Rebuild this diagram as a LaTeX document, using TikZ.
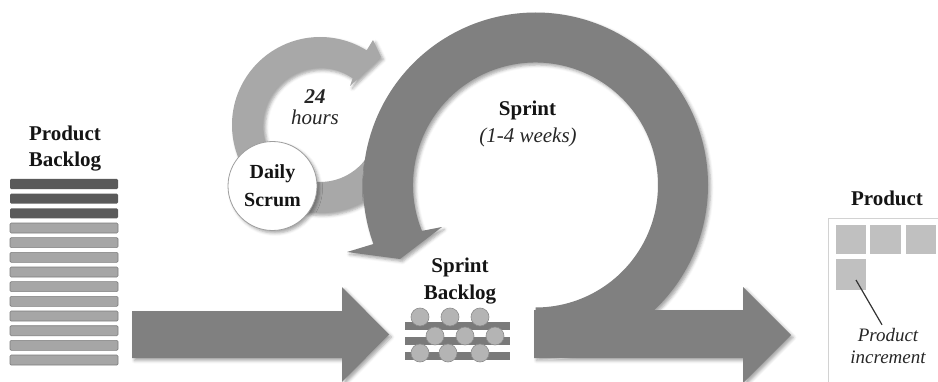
\documentclass[tikz,border=0pt]{standalone}
\usepackage{fontspec}
\setmainfont{Liberation Serif}
\usetikzlibrary{calc,shadows.blur}

\definecolor{bigarrow}{HTML}{808080}
\definecolor{smallarrow}{HTML}{A8A8A8}
\definecolor{darkitem}{HTML}{5A5A5A}
\definecolor{lightitem}{HTML}{A6A6A6}
\definecolor{itemedge}{HTML}{7E7E7E}
\definecolor{sbbar}{HTML}{7A7A7A}
\definecolor{sbdot}{HTML}{B4B4B4}
\definecolor{sbdotedge}{HTML}{8C8C8C}
\definecolor{prodsq}{HTML}{C0C0C0}
\definecolor{prodbox}{HTML}{D2D2D2}

\tikzset{
  softshadow/.style={blur shadow={shadow xshift=2.5pt, shadow yshift=-2.5pt,
      shadow blur radius=3pt, shadow opacity=35}},
  boldlbl/.style={font=\fontsize{21}{26}\selectfont\bfseries, align=center, text=black!92},
  itlbl/.style={font=\fontsize{21}{24}\selectfont\itshape, align=center, text=black!85},
  pbitem/.style={draw=itemedge, line width=0.6pt, rounded corners=1.2pt},
  sbitem/.style={fill=sbdot, draw=sbdotedge, line width=0.6pt},
}

\begin{document}
\begin{tikzpicture}[x=1pt, y=1pt]
\useasboundingbox (0,0) rectangle (938,381);

% ---------- product backlog stack ----------
\foreach \i in {0,...,12}{
  \pgfmathsetmacro{\ytop}{202-14.67*\i}
  \ifnum\i<3
    \fill[darkitem, rounded corners=1.2pt] (10,\ytop) rectangle (118,\ytop-10);
  \else
    \filldraw[pbitem, fill=lightitem] (10,\ytop) rectangle (118,\ytop-10);
  \fi
}
\node[boldlbl] (pblabel) at (65,232.5) {Product\\Backlog};

% ---------- arrow into the sprint ----------
\fill[bigarrow, softshadow]
  (132,23) -- (342,23) -- (342,-1) -- (389,46.5) -- (342,94) -- (342,70)
  -- (132,70) -- cycle;

% ---------- 24 hour loop ----------
\coordinate (dc) at (320,256);
\fill[smallarrow, softshadow]
  ($(dc)+(-30:88)$) arc[start angle=-30, end angle=-302, radius=88]
  -- (373,341) -- (381,324) -- (350,295)
  -- ($(dc)+(-305:57)$) arc[start angle=-305, end angle=-30, radius=57]
  -- cycle;
\node[itlbl, font=\fontsize{21}{21}\selectfont\itshape] (hours) at (315,273.5)
  {\textbf{24}\\hours};

% ---------- daily scrum ----------
\node[circle, minimum size=89pt, inner sep=0pt, fill=white, draw=black!38,
      line width=0.8pt, softshadow, boldlbl, font=\fontsize{20}{28}\selectfont\bfseries]
  (scrum) at (272.5,195) {Daily\\Scrum};

% ---------- sprint loop with outgoing arrow ----------
\coordinate (sc) at (535.5,196);
\fill[bigarrow, softshadow]
  ($(sc)+(-90:172.5)$) arc[start angle=-90, end angle=200, radius=172.5]
  -- (347,129) -- (400,122) -- (442,154)
  -- ($(sc)+(202:122.5)$) arc[start angle=202, end angle=-90, radius=122.5]
  -- cycle
  (534,23) -- (743,23) -- (743,-2) -- (791,46) -- (743,94) -- (743,71)
  -- (534,71) -- cycle;
\node[boldlbl] (sprint) at (527.5,271) {Sprint};
\node[itlbl] (weeks) at (528,244) {(1-4 weeks)};

% ---------- sprint backlog ----------
\node[boldlbl, font=\fontsize{21}{27}\selectfont\bfseries] (sblabel) at (460,99.5)
  {Sprint\\Backlog};
\foreach \yb in {55,40,25}{
  \fill[sbbar] (405,\yb+4) rectangle (510,\yb-4);
}
\foreach \xx in {420,450,480}{ \filldraw[sbitem] (\xx,64) circle[radius=9]; }
\foreach \xx in {435,465,495}{ \filldraw[sbitem] (\xx,45) circle[radius=9]; }
\foreach \xx in {420,448,480}{ \filldraw[sbitem] (\xx,28) circle[radius=9]; }

% ---------- product ----------
\node[boldlbl] (plabel) at (887,183) {Product};
\draw[prodbox, line width=1pt] (945,163) -- (828,163) -- (828,-10);
\fill[prodsq] (836,156) rectangle (866,127);
\fill[prodsq] (870,156) rectangle (901,127);
\fill[prodsq] (906,156) rectangle (936,127);
\fill[prodsq] (836,122) rectangle (866,91);
\node[itlbl, font=\fontsize{19}{22}\selectfont\itshape] (incrlabel) at (888,35)
  {Product\\increment};
\coordinate (incrpt) at (856,101);
\draw[black!80, line width=1.2pt] (incrpt) -- (incrlabel.north -| 882,0);
\end{tikzpicture}
\end{document}
